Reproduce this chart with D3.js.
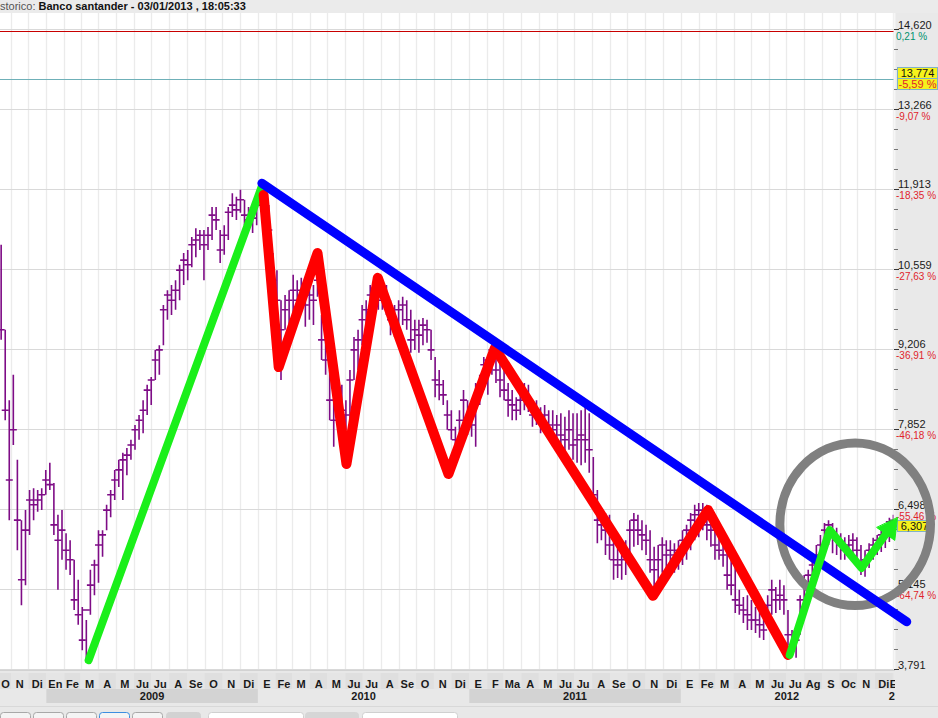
<!DOCTYPE html>
<html>
<head>
<meta charset="utf-8">
<script src="https://cdn.jsdelivr.net/npm/d3@7"></script>
<style>
  body { margin: 0; background: #fff; overflow: hidden; }
  svg { display: block; font-family: "Liberation Sans", Arial, sans-serif; }
</style>
</head>
<body>
<div id="chart"></div>
<script>
/*************** DATA ***************/
// weekly bars, one per week starting on this date
const firstWeek = "2008-10-15";

const weekHigh = [
  10.97, 9.53, 8.34, 8.77, 7.33, 6.31, 6.48, 6.82, 6.85, 6.82,
  6.85, 7.16, 7.28, 6.94, 6.40, 6.48, 6.09, 5.97, 5.64, 5.30,
  4.84, 4.62, 5.47, 5.64, 6.14, 6.14, 6.57, 6.82, 7.16, 7.33,
  7.45, 7.53, 7.67, 7.92, 8.09, 8.34, 8.60, 8.73, 9.19, 9.27,
  9.95, 10.20, 10.29, 10.37, 10.63, 10.83, 10.88, 11.10, 11.25, 11.22,
  11.22, 11.27, 11.61, 11.61, 11.22, 11.30, 11.61, 11.84, 11.78, 11.90,
  11.73, 11.61, 11.51, 11.73, 12.07, 11.90, 11.64, 10.83, 10.54, 10.03,
  10.12, 10.20, 10.46, 10.37, 10.41, 10.29, 10.34, 10.29, 10.66, 9.78,
  9.53, 8.85, 8.34, 8.68, 8.60, 8.34, 8.85, 9.41, 9.53, 9.95,
  10.03, 10.29, 10.37, 10.46, 10.37, 10.29, 10.03, 9.95, 10.03, 10.09,
  10.03, 9.87, 9.70, 9.70, 9.73, 9.70, 9.53, 9.07, 8.85, 8.68,
  8.34, 8.17, 7.89, 8.17, 8.51, 8.34, 8.17, 8.63, 8.77, 9.07,
  9.10, 9.27, 9.24, 8.97, 8.85, 8.63, 8.51, 8.39, 8.51, 8.63,
  8.60, 8.34, 8.34, 8.22, 8.26, 8.17, 8.17, 8.09, 8.12, 8.06,
  8.17, 8.12, 8.12, 8.17, 8.29, 8.12, 7.38, 6.82, 6.48, 6.43,
  6.40, 5.97, 5.89, 5.86, 5.97, 6.31, 6.43, 6.40, 6.31, 6.23,
  6.14, 5.86, 5.89, 6.02, 5.97, 5.97, 5.92, 5.97, 6.14, 6.23,
  6.43, 6.57, 6.60, 6.60, 6.57, 6.43, 6.19, 6.14, 6.02, 5.80,
  5.64, 5.52, 5.13, 5.01, 5.04, 4.96, 4.84, 4.79, 4.74, 5.04,
  5.30, 5.18, 5.30, 5.21, 4.79, 4.45, 4.37, 5.04, 5.38, 5.47,
  5.69, 5.89, 6.06, 6.26, 6.31, 6.26, 6.18, 6.09, 6.02, 6.06,
  6.09, 6.02, 5.89, 5.80, 5.92, 6.01, 6.06, 6.14, 6.23, 6.35,
  6.40
];

const weekLow = [
  9.36, 8.00, 6.31, 7.58, 5.80, 4.87, 5.21, 6.06, 6.31, 6.45,
  6.48, 6.74, 6.82, 6.06, 5.13, 5.64, 5.47, 5.38, 4.79, 4.54,
  4.11, 3.91, 4.71, 5.04, 5.25, 5.69, 6.14, 6.36, 6.65, 6.87,
  6.65, 7.07, 7.33, 7.50, 7.67, 7.78, 8.09, 8.26, 8.68, 8.77,
  9.27, 9.70, 9.78, 9.87, 10.03, 10.29, 10.37, 10.59, 10.76, 10.88,
  10.37, 10.88, 11.05, 11.22, 10.66, 10.80, 11.05, 11.44, 11.39, 11.51,
  11.30, 11.22, 11.17, 11.30, 11.73, 11.39, 11.05, 10.03, 9.70, 8.68,
  9.53, 9.61, 9.70, 9.73, 9.87, 9.58, 9.70, 9.61, 10.09, 9.02,
  8.77, 8.00, 7.55, 7.84, 7.84, 7.84, 8.00, 8.68, 8.85, 9.27,
  9.36, 9.70, 9.78, 9.87, 9.87, 9.78, 9.44, 9.41, 9.53, 9.61,
  9.53, 9.14, 9.19, 9.14, 9.27, 9.31, 9.02, 8.39, 8.34, 8.26,
  7.84, 7.67, 7.38, 7.50, 7.89, 7.75, 7.72, 7.55, 8.26, 8.51,
  8.43, 8.77, 8.63, 8.39, 8.34, 8.06, 8.00, 8.00, 8.09, 8.17,
  8.14, 7.89, 7.92, 7.78, 7.84, 7.67, 7.55, 7.58, 7.55, 7.41,
  7.50, 7.33, 7.28, 7.24, 7.28, 7.11, 6.53, 5.92, 5.97, 5.72,
  5.64, 5.30, 5.33, 5.30, 5.38, 5.55, 5.86, 5.89, 5.80, 5.72,
  5.42, 5.18, 5.30, 5.42, 5.47, 5.52, 5.42, 5.47, 5.55, 5.64,
  5.80, 5.97, 6.02, 6.14, 5.97, 5.86, 5.64, 5.64, 5.52, 5.13,
  5.04, 4.74, 4.71, 4.57, 4.45, 4.45, 4.40, 4.32, 4.28, 4.54,
  4.71, 4.74, 4.79, 4.71, 4.20, 4.03, 3.98, 4.37, 4.96, 5.04,
  5.18, 5.38, 5.55, 5.86, 5.89, 5.75, 5.72, 5.64, 5.64, 5.67,
  5.69, 5.64, 5.38, 5.35, 5.50, 5.64, 5.72, 5.77, 5.84, 5.94,
  6.14
];

const weekClose = [
  9.53, 8.17, 6.99, 7.84, 6.31, 5.30, 6.14, 6.65, 6.57, 6.65,
  6.74, 6.99, 6.91, 6.23, 5.97, 6.14, 5.80, 5.64, 4.96, 4.71,
  4.28, 4.79, 5.21, 5.55, 5.89, 6.06, 6.48, 6.74, 6.99, 7.16,
  7.33, 7.41, 7.58, 7.84, 8.00, 8.17, 8.51, 8.68, 9.02, 9.19,
  9.87, 10.12, 10.03, 10.20, 10.54, 10.71, 10.63, 10.97, 11.05, 11.13,
  10.97, 11.13, 11.47, 11.39, 10.88, 11.13, 11.52, 11.64, 11.56, 11.73,
  11.47, 11.39, 11.42, 11.64, 11.90, 11.56, 11.22, 10.37, 10.03, 9.53,
  9.87, 10.03, 10.20, 10.03, 10.20, 9.95, 10.12, 10.03, 10.37, 9.36,
  9.02, 8.34, 8.00, 8.43, 8.17, 8.09, 8.68, 9.19, 9.36, 9.70,
  9.87, 10.12, 10.20, 10.29, 10.03, 9.95, 9.70, 9.61, 9.87, 9.95,
  9.70, 9.36, 9.53, 9.44, 9.61, 9.53, 9.19, 8.68, 8.60, 8.43,
  8.09, 7.84, 7.67, 8.00, 8.34, 8.00, 7.92, 8.34, 8.60, 8.94,
  9.02, 9.19, 8.85, 8.68, 8.51, 8.34, 8.26, 8.17, 8.34, 8.43,
  8.34, 8.09, 8.17, 8.00, 8.09, 7.92, 7.84, 7.92, 7.75, 7.67,
  7.84, 7.58, 7.67, 7.75, 7.67, 7.50, 6.74, 6.31, 6.23, 6.14,
  5.89, 5.64, 5.55, 5.64, 5.80, 6.14, 6.31, 6.14, 6.06, 5.97,
  5.64, 5.47, 5.64, 5.89, 5.72, 5.80, 5.72, 5.80, 5.97, 6.14,
  6.31, 6.40, 6.48, 6.40, 6.23, 6.14, 5.89, 5.80, 5.72, 5.38,
  5.21, 4.96, 4.87, 4.79, 4.71, 4.62, 4.62, 4.54, 4.45, 4.87,
  5.13, 4.96, 5.04, 4.96, 4.37, 4.20, 4.28, 4.96, 5.21, 5.38,
  5.55, 5.72, 5.89, 6.14, 6.23, 6.06, 5.97, 5.89, 5.80, 5.89,
  5.97, 5.80, 5.55, 5.64, 5.80, 5.89, 5.97, 6.06, 6.14, 6.28,
  6.307
];

// right price axis
const priceTicks = [14.620, 13.266, 11.913, 10.559, 9.206, 7.852, 6.498, 5.145, 3.791];
const pctLabels = ["0,21 %", "-9,07 %", "-18,35 %", "-27,63 %", "-36,91 %", "-46,18 %", "-55,46 %", "-64,74 %", null];
const refPrice = 14.59;          // red reference line
const levelPrice = 13.774;       // teal level line
const levelPct = "-5,59 %";

// time axis labels, from Oct 2008 to Jan 2013
const monthLabels = ["O", "N", "Di",
  "En", "Fe", "M", "A", "M", "Ju", "Ju", "A", "Se", "O", "N", "Di",
  "E", "Fe", "M", "A", "M", "Ju", "Ju", "A", "Se", "O", "N", "Di",
  "E", "F", "Ma", "A", "M", "Ju", "Ju", "A", "Se", "O", "N", "Di",
  "E", "Fe", "M", "A", "M", "Ju", "Ju", "Ag", "S", "Oc", "N", "Di",
  "E"];
const yearLabels = ["2009", "2010", "2011", "2012", "2013"];

// hand drawn annotations [date, price]
const trendUp = [["2009-03-15", 3.94], ["2010-01-08", 11.96]];
const trendDown = [["2010-01-08", 12.01], ["2013-01-25", 4.59]];
const zigzag = [["2010-01-11", 11.81], ["2010-02-06", 8.90], ["2010-04-14", 10.83], ["2010-06-03", 7.26],
  ["2010-07-27", 10.41], ["2010-11-26", 7.09], ["2011-02-14", 9.22], ["2011-11-14", 5.03],
  ["2012-02-17", 6.48], ["2012-07-04", 4.03]];
const breakout = [["2012-07-07", 4.03], ["2012-09-14", 6.14], ["2012-11-08", 5.50], ["2013-01-09", 6.35]];
const ringCenter = ["2012-10-28", 6.24];
const ringLeft = "2012-06-20";
const ringTop = 7.615;

/*************** SETUP ***************/
const W = 938, H = 718;
const plot = { left: 0, top: 13, right: 894, bottom: 670 };
const parse = d3.timeParse("%Y-%m-%d");
const startDate = parse("2008-10-13"), endDate = parse("2013-01-03");

const x = d3.scaleTime().domain([startDate, endDate]).range([plot.left, plot.right]);
const y = d3.scaleLinear().domain([3.791, 14.620]).range([669, 29]);

const es = d3.formatLocale({ decimal: ",", thousands: ".", grouping: [3], currency: ["", " €"] });
const fmtPrice = es.format(".3f");

const svg = d3.select("#chart").append("svg")
  .attr("width", W)
  .attr("height", H);

svg.append("rect").attr("width", W).attr("height", H).attr("fill", "#e8e8e8");

// plot background
svg.append("rect")
  .attr("x", plot.left).attr("y", plot.top)
  .attr("width", plot.right - plot.left).attr("height", plot.bottom - plot.top)
  .attr("fill", "#fff");

svg.append("clipPath").attr("id", "plotclip")
  .append("rect")
  .attr("x", plot.left).attr("y", plot.top)
  .attr("width", plot.right - plot.left).attr("height", plot.bottom - plot.top);

const inner = svg.append("g").attr("clip-path", "url(#plotclip)");

// monthly vertical grid
const months = d3.timeMonth.range(d3.timeMonth.ceil(startDate), endDate);
inner.selectAll(".vgrid")
  .data(months)
  .enter().append("line")
  .attr("x1", d => Math.round(x(d)) + 0.5).attr("x2", d => Math.round(x(d)) + 0.5)
  .attr("y1", plot.top).attr("y2", plot.bottom)
  .attr("stroke", "#ebebeb").attr("stroke-width", 1.3);

// horizontal grid at price ticks
inner.selectAll(".hgrid")
  .data(priceTicks)
  .enter().append("line")
  .attr("x1", plot.left).attr("x2", plot.right)
  .attr("y1", d => Math.round(y(d)) + 0.5).attr("y2", d => Math.round(y(d)) + 0.5)
  .attr("stroke", "#d9d9d9");

// reference + level lines
inner.append("line")
  .attr("x1", plot.left).attr("x2", plot.right)
  .attr("y1", Math.round(y(refPrice)) + 0.5).attr("y2", Math.round(y(refPrice)) + 0.5)
  .attr("stroke", "#c80000");
inner.append("line")
  .attr("x1", plot.left).attr("x2", plot.right)
  .attr("y1", Math.round(y(levelPrice)) + 0.5).attr("y2", Math.round(y(levelPrice)) + 0.5)
  .attr("stroke", "#6fb0b8");

// price bars
const bars = weekClose.map((c, i) => ({
  date: d3.timeDay.offset(parse(firstWeek), 7 * i),
  high: weekHigh[i], low: weekLow[i], close: c
}));

inner.selectAll(".bar")
  .data(bars)
  .enter().append("path")
  .attr("d", d => {
    const bx = x(d.date);
    return `M${bx},${y(d.high)}V${y(d.low)}M${bx - 3.5},${y(d.close)}H${bx + 3.5}`;
  })
  .attr("fill", "none")
  .attr("stroke", "#7e0c86")
  .attr("stroke-width", 1.6);

/*************** RIGHT PRICE AXIS ***************/
const axisG = svg.append("g");
axisG.append("rect")
  .attr("x", plot.right).attr("y", 0)
  .attr("width", W - plot.right).attr("height", plot.bottom)
  .attr("fill", "#e9e9e9");
axisG.append("line")
  .attr("x1", plot.right + 0.5).attr("x2", plot.right + 0.5)
  .attr("y1", plot.top).attr("y2", plot.bottom)
  .attr("stroke", "#f6f6f6").attr("stroke-width", 2);

// minor ticks, four per major step
const minor = [];
priceTicks.slice(0, -1).forEach((t, i) => {
  const step = (priceTicks[i + 1] - t) / 4;
  for (let k = 1; k < 4; k++) minor.push(t + step * k);
});
axisG.selectAll(".minor")
  .data(minor)
  .enter().append("line")
  .attr("x1", plot.right).attr("x2", plot.right + 4)
  .attr("y1", d => Math.round(y(d)) + 0.5).attr("y2", d => Math.round(y(d)) + 0.5)
  .attr("stroke", "#777");

axisG.selectAll(".major")
  .data(priceTicks)
  .enter().append("line")
  .attr("x1", plot.right).attr("x2", plot.right + 5)
  .attr("y1", d => Math.round(y(d)) + 0.5).attr("y2", d => Math.round(y(d)) + 0.5)
  .attr("stroke", "#333");

axisG.selectAll(".plabel")
  .data(priceTicks)
  .enter().append("text")
  .attr("x", plot.right + 4).attr("y", d => y(d) - 0.5)
  .attr("font-size", 11).attr("fill", "#1a1a1a")
  .text(d => fmtPrice(d));

axisG.selectAll(".pct")
  .data(priceTicks.map((t, i) => ({ t, label: pctLabels[i] })).filter(d => d.label))
  .enter().append("text")
  .attr("x", plot.right + 2).attr("y", d => y(d.t) + 10.5)
  .attr("font-size", 10)
  .attr("fill", d => d.label.startsWith("-") ? "#e0242c" : "#00916e")
  .text(d => d.label);

// level line value boxes
function valueBox(top, w, txt, color) {
  axisG.append("rect")
    .attr("x", plot.right + 3.5).attr("y", top + 0.5)
    .attr("width", w).attr("height", 11)
    .attr("fill", "#f6f21c").attr("stroke", "#7fb2c8");
  axisG.append("text")
    .attr("x", plot.right + 3.5 + w / 2).attr("y", top + 10)
    .attr("text-anchor", "middle").attr("font-size", 11).attr("fill", color)
    .text(txt);
}
const ly = Math.round(y(levelPrice));
valueBox(ly - 12, 40, fmtPrice(levelPrice), "#111");
valueBox(ly - 1, 40, levelPct, "#e0242c");
const lastClose = weekClose[weekClose.length - 1];
valueBox(Math.round(y(lastClose)), 34, fmtPrice(lastClose), "#111");

/*************** TIME AXIS ***************/
const timeG = svg.append("g");
svg.append("clipPath").attr("id", "timeclip")
  .append("rect").attr("x", 0).attr("y", plot.bottom).attr("width", plot.right + 1).attr("height", 40);
const tg = timeG.append("g").attr("clip-path", "url(#timeclip)");

tg.append("line")
  .attr("x1", 0).attr("x2", W).attr("y1", plot.bottom + 0.5).attr("y2", plot.bottom + 0.5)
  .attr("stroke", "#d2d2d2");

const monthStarts = d3.timeMonth.range(d3.timeMonth.floor(startDate), endDate);
const monthCells = monthStarts.map((m, i) => {
  const a = Math.max(x(m), plot.left), b = Math.min(x(d3.timeMonth.offset(m, 1)), plot.right);
  return { a, b, label: monthLabels[i], i };
});

tg.selectAll(".mcell")
  .data(monthCells)
  .enter().append("rect")
  .attr("x", d => d.a).attr("y", plot.bottom + 3)
  .attr("width", d => d.b - d.a).attr("height", 16)
  .attr("fill", d => d.i % 2 ? "#e5e5e5" : "#dfdfdf");

tg.selectAll(".mlabel")
  .data(monthCells)
  .enter().append("text")
  .attr("x", d => (d.b - d.a) < 8 ? d.a - 3 : (d.a + d.b) / 2)
  .attr("text-anchor", d => (d.b - d.a) < 8 ? "start" : "middle")
  .attr("y", plot.bottom + 18)
  .attr("font-size", 11).attr("font-weight", "bold").attr("fill", "#1a1a1a")
  .text(d => d.label);

const yearCells = yearLabels.map((label, i) => {
  const ys = d3.timeYear.offset(parse("2009-01-01"), i);
  const a = Math.max(x(ys), plot.left), b = Math.min(x(d3.timeYear.offset(ys, 1)), plot.right);
  return { a, b, label, i };
});

tg.selectAll(".ycell")
  .data(yearCells.filter(d => d.i % 2 === 0 && d.b - d.a > 20))
  .enter().append("rect")
  .attr("x", d => d.a).attr("y", plot.bottom + 19)
  .attr("width", d => d.b - d.a).attr("height", 14)
  .attr("fill", "#d3d3d3");

tg.selectAll(".ylabel")
  .data(yearCells)
  .enter().append("text")
  .attr("x", d => (d.b - d.a) < 20 ? d.a - 4 : (d.a + d.b) / 2)
  .attr("text-anchor", d => (d.b - d.a) < 20 ? "start" : "middle")
  .attr("y", plot.bottom + 30)
  .attr("font-size", 11).attr("font-weight", "bold").attr("fill", "#1a1a1a")
  .text(d => d.label);

// bottom toolbar
const toolbar = [
  [0, 30, "#f4f4f4", "#a8a8a8"], [33, 30, "#f4f4f4", "#a8a8a8"], [66, 30, "#f4f4f4", "#a8a8a8"],
  [99, 30, "#f4f4f4", "#3c8ee0"], [132, 30, "#f4f4f4", "#a8a8a8"], [166, 34, "#d2d2d2", "#d2d2d2"],
  [208, 95, "#ffffff", "#d0d0d0"], [305, 53, "#d6d6d6", "#d6d6d6"], [362, 95, "#ffffff", "#d0d0d0"]
];
timeG.append("line")
  .attr("x1", 0).attr("x2", W).attr("y1", 706.5).attr("y2", 706.5).attr("stroke", "#d8d8d8");
timeG.selectAll(".btn")
  .data(toolbar)
  .enter().append("rect")
  .attr("x", d => d[0] + 0.5).attr("y", 712.5)
  .attr("width", d => d[1]).attr("height", 12).attr("rx", 3)
  .attr("fill", d => d[2]).attr("stroke", d => d[3]);

/*************** TITLE ***************/
svg.append("rect").attr("width", W).attr("height", plot.top).attr("fill", "#ebebeb");
const title = svg.append("text").attr("x", 0).attr("y", 10).attr("font-size", 11);
title.append("tspan").attr("fill", "#555").text("storico: ");
title.append("tspan").attr("font-weight", "bold").attr("fill", "#111")
  .text("Banco santander - 03/01/2013 , 18:05:33");

/*************** ANNOTATIONS ***************/
const pt = d => [x(parse(d[0])), y(d[1])];
const line = d3.line();
const ann = svg.append("g")
  .attr("fill", "none")
  .attr("stroke-linecap", "round")
  .attr("stroke-linejoin", "round");

ann.append("path").attr("d", line(trendUp.map(pt)))
  .attr("stroke", "#1aef1a").attr("stroke-width", 8);

ann.append("path").attr("d", line(zigzag.map(pt)))
  .attr("stroke", "#ff0000").attr("stroke-width", 10);

const c = pt(ringCenter);
ann.append("ellipse")
  .attr("cx", c[0]).attr("cy", c[1])
  .attr("rx", c[0] - x(parse(ringLeft)))
  .attr("ry", c[1] - y(ringTop))
  .attr("stroke", "#808080").attr("stroke-width", 9);

ann.append("path").attr("d", line(trendDown.map(pt)))
  .attr("stroke", "#0000ff").attr("stroke-width", 9);

// breakout arrow
const bp = breakout.map(pt);
const tip = bp[bp.length - 1], prev = bp[bp.length - 2];
const len = Math.hypot(tip[0] - prev[0], tip[1] - prev[1]);
const ux = (tip[0] - prev[0]) / len, uy = (tip[1] - prev[1]) / len;
const headLen = 20, headHalf = 11;
const base = [tip[0] - ux * headLen, tip[1] - uy * headLen];
ann.append("path").attr("d", line(bp.slice(0, -1).concat([base])))
  .attr("stroke", "#1aef1a").attr("stroke-width", 8);
ann.append("path")
  .attr("d", line([tip, [base[0] - uy * headHalf, base[1] + ux * headHalf],
    [base[0] + uy * headHalf, base[1] - ux * headHalf]]) + "Z")
  .attr("fill", "#1aef1a").attr("stroke", "#1aef1a").attr("stroke-width", 1);
</script>
</body>
</html>
